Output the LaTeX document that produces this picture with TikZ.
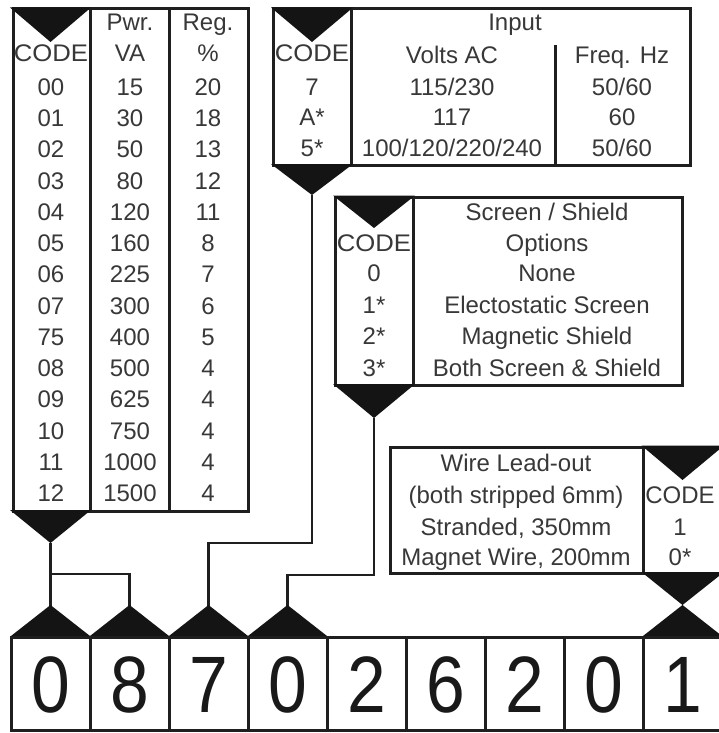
\documentclass[tikz,border=0pt]{standalone}
\usepackage{fontspec}
\setmainfont{Liberation Sans}
\usepackage{graphicx}
\begin{document}
\begin{tikzpicture}[x=1pt,y=-1pt,
  frame/.style={draw=black!88,line width=3pt},
  conn/.style={draw=black!88,line width=2.8pt},
  wedge/.style={fill=black!92},
  txt/.style={inner sep=0pt,text=black!78,font=\fontsize{24}{24}\selectfont,text height=17pt,text depth=0pt},
  big/.style={inner sep=0pt,text=black!90,font=\fontsize{80}{80}\selectfont,text height=57pt,text depth=0pt}]
\useasboundingbox (0,0) rectangle (718,733);
\fill[white] (0,0) rectangle (718,733);

% ---------- connector bends ----------
\coordinate (j1) at (50.5,574);
\coordinate (b3) at (312,543);
\coordinate (b4) at (374,575);

% ---------- left table ----------
\draw[frame] (13,9) rectangle (248,511);
\draw[frame] (90,9) -- (90,511) (169,9) -- (169,511);
\fill[wedge] (10,7.5) -- (91,7.5) -- (50.5,42) coordinate (ltop) -- cycle;
\fill[wedge] (10,510) -- (91,510) -- (50.5,543) coordinate (ltip) -- cycle;
\node[txt] (lh1) at (130,22) {Pwr.};
\node[txt] (lh2) at (208,22) {Reg.};
\node[txt] (lh3) at (51,53) {\scalebox{1.07}[1]{CODE}};
\node[txt] (lh4) at (130,53) {VA};
\node[txt] (lh5) at (208,53) {\%};
\foreach \c/\p/\r [count=\i from 0] in {00/15/20,01/30/18,02/50/13,03/80/12,04/120/11,05/160/8,06/225/7,07/300/6,75/400/5,08/500/4,09/625/4,10/750/4,11/1000/4,12/1500/4}{
  \node[txt] (lc\i) at (51,87+31.23*\i) {\c};
  \node[txt] (lp\i) at (130,87+31.23*\i) {\p};
  \node[txt] (lr\i) at (208,87+31.23*\i) {\r};
}

% ---------- input table ----------
\draw[frame] (273,9) rectangle (690,165);
\draw[frame] (351,9) -- (351,165) (555,45) -- (555,165);
\fill[wedge] (271,7.5) -- (353,7.5) -- (312,42) coordinate (itop) -- cycle;
\fill[wedge] (271,164) -- (353,164) -- (312,195) coordinate (itip) -- cycle;
\node[txt] (ih1) at (515,22) {Input};
\node[txt] (ih2) at (312,53) {\scalebox{1.07}[1]{CODE}};
\node[txt] (ih3) at (452,55) {Volts AC};
\node[txt] (ih4) at (622,55) {Freq. Hz};
\foreach \c/\v/\f [count=\i from 0] in {7/115\slash 230/50\slash 60, A*/117/60, 5*/100\slash 120\slash 220\slash 240/50\slash 60}{
  \node[txt] (ic\i) at (312,87+30.5*\i) {\c};
  \node[txt] (iv\i) at (452,87+30.5*\i) {\v};
  \node[txt] (if\i) at (622,87+30.5*\i) {\f};
}

% ---------- screen / shield table ----------
\draw[frame] (335,197) rectangle (682,385);
\draw[frame] (413,197) -- (413,385);
\fill[wedge] (333,195.5) -- (415,195.5) -- (374,228) coordinate (stop) -- cycle;
\fill[wedge] (333,384) -- (415,384) -- (374,418) coordinate (stip) -- cycle;
\node[txt] (sh1) at (547,212) {Screen / Shield};
\node[txt] (sh2) at (547,243) {Options};
\node[txt] (sh3) at (374,243) {\scalebox{1.07}[1]{CODE}};
\foreach \c/\t [count=\i from 0] in {0/None, 1*/Electostatic Screen, 2*/Magnetic Shield, 3*/Both Screen \& Shield}{
  \node[txt] (sc\i) at (374,273+31.6*\i) {\c};
  \node[txt] (st\i) at (547,273+31.6*\i) {\t};
}

% ---------- wire lead-out table ----------
\draw[frame] (390,447) rectangle (724,573);
\draw[frame] (643,447) -- (643,573);
\fill[wedge] (641.5,445.5) -- (724,445.5) -- (682.5,480) coordinate (wtop) -- cycle;
\fill[wedge] (641.5,572) -- (724,572) -- (682.5,605) coordinate (wtip) -- cycle;
\node[txt] (wt0) at (516,463) {Wire Lead-out};
\node[txt] (wt1) at (516,495) {(both stripped 6mm)};
\node[txt] (wt2) at (516,527) {Stranded, 350mm};
\node[txt] (wt3) at (516,557) {Magnet Wire, 200mm};
\node[txt] (wc0) at (680,495) {CODE};
\node[txt] (wc1) at (680,527) {1};
\node[txt] (wc2) at (680,557) {0*};

% ---------- part number boxes ----------
\foreach \d [count=\i from 0] in {0,8,7,0,2,6,2,0,1}{
  \draw[frame] (11+79*\i,637) rectangle (90+79*\i,730);
  \node[big] (d\i) at (50.5+79*\i,683.5) {\scalebox{0.87}[1]{\d}};
}
\draw[conn] (ltip) -- (50.5,606);
\draw[conn] (j1) -| (129.5,606);
\draw[conn] (itip) -- (b3) -| (208.5,606);
\draw[conn] (stip) -- (b4) -| (287.5,606);
\foreach \i in {0,1,2,3,8}{
  \fill[wedge] (11+79*\i,636) -- (90+79*\i,636) -- (50.5+79*\i,605) coordinate (dt\i) -- cycle;
}
\end{tikzpicture}
\end{document}
